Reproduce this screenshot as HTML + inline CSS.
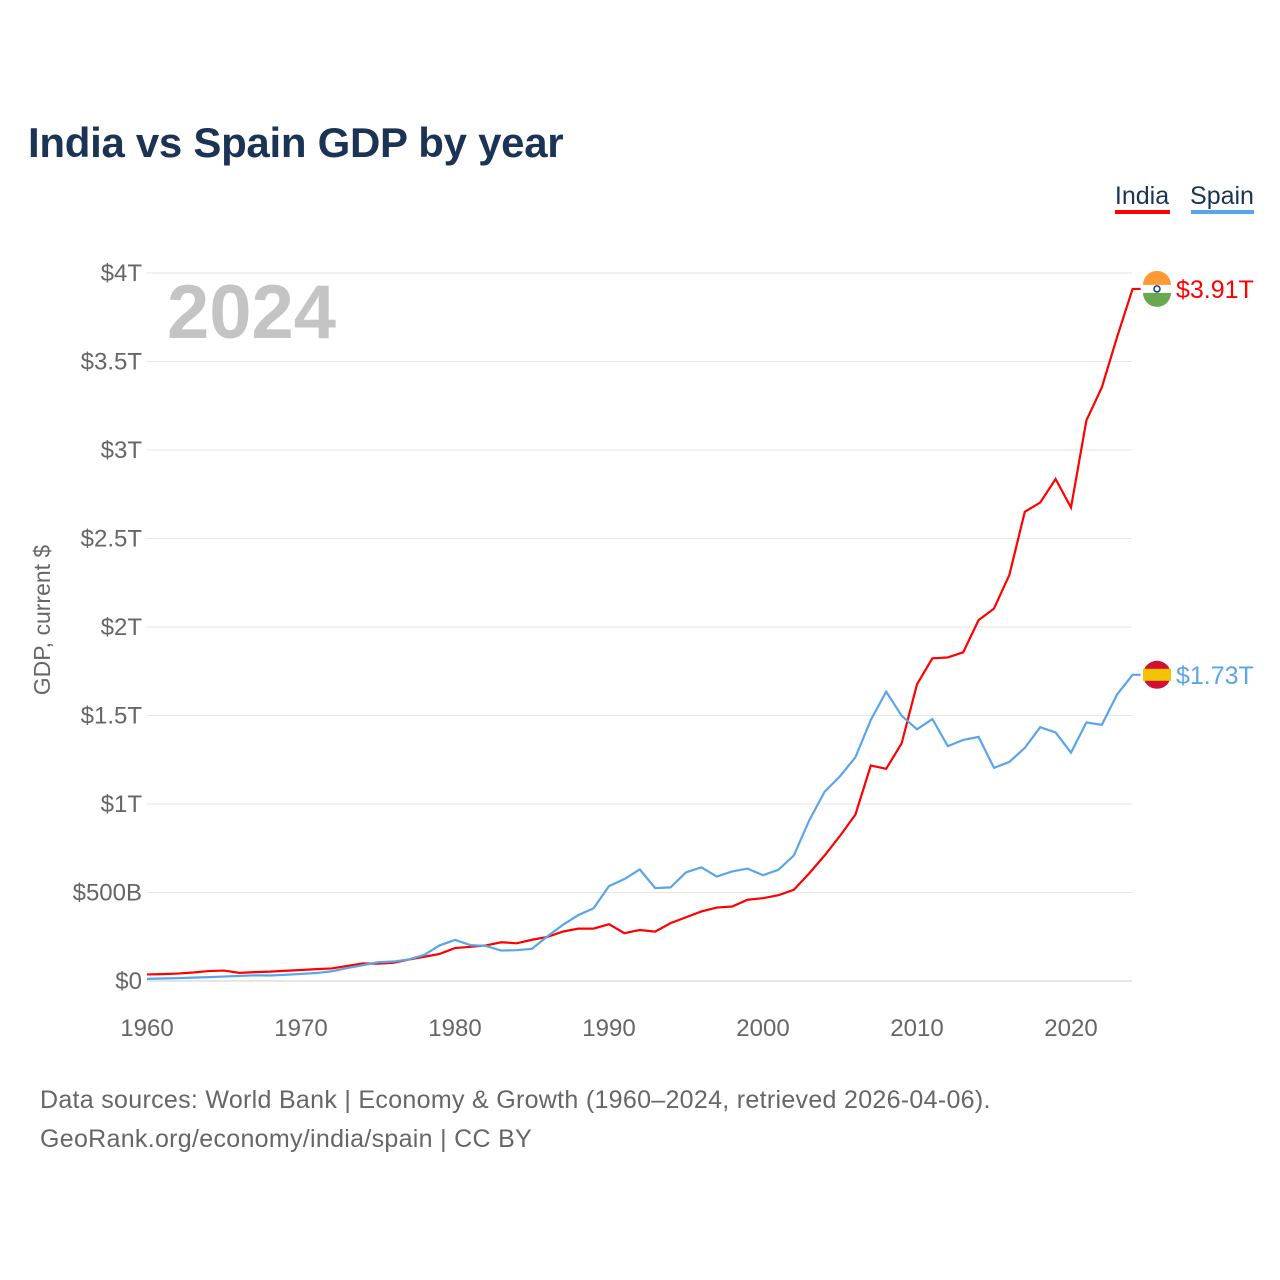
<!DOCTYPE html>
<html><head><meta charset="utf-8"><style>
body{margin:0;background:#fff;font-family:"Liberation Sans",sans-serif}
#wrap{position:relative;width:1280px;height:1280px;overflow:hidden}
</style></head><body>
<div id="wrap">
<svg id="chart" width="1280" height="1280">
<text x="28" y="157" font-size="42" font-weight="bold" fill="#1b3354" letter-spacing="-0.3">India vs Spain GDP by year</text>
<g>
<text x="1142" y="204" font-size="25" fill="#1b3354" text-anchor="middle">India</text>
<rect x="1115" y="210" width="55" height="4" fill="#ff0000"/>
<text x="1222" y="204" font-size="25" fill="#1b3354" text-anchor="middle">Spain</text>
<rect x="1191" y="210" width="63" height="4" fill="#5aa5ea"/>
</g>
<text x="167" y="338" font-size="76" font-weight="bold" fill="#c4c4c4">2024</text>
<text transform="translate(50,620) rotate(-90)" font-size="23" fill="#666" text-anchor="middle">GDP, current $</text>
<g id="grid"></g><g id="xt"></g><g id="lines"></g>
<text x="40" y="1108" font-size="25" fill="#666" letter-spacing="0.3">Data sources: World Bank | Economy &amp; Growth (1960–2024, retrieved 2026-04-06).</text>
<text x="40" y="1147" font-size="25" fill="#666" letter-spacing="0.3">GeoRank.org/economy/india/spain | CC BY</text>
</svg></div>
<script>
const years=[];for(let y=1960;y<=2024;y++)years.push(y);
const india=[.037,.039,.042,.048,.056,.059,.046,.050,.053,.058,.062,.067,.071,.085,.099,.098,.103,.121,.137,.153,.186,.193,.201,.219,.213,.233,.249,.279,.296,.296,.321,.270,.288,.279,.327,.360,.393,.415,.421,.459,.468,.485,.515,.608,.709,.820,.940,1.217,1.199,1.342,1.676,1.823,1.828,1.857,2.039,2.104,2.295,2.651,2.703,2.836,2.675,3.167,3.353,3.64,3.91];
const spain=[.012,.014,.016,.019,.022,.025,.029,.032,.031,.035,.040,.045,.055,.073,.089,.106,.110,.122,.147,.201,.232,.203,.198,.172,.174,.182,.252,.317,.372,.411,.536,.576,.630,.525,.529,.614,.642,.590,.619,.635,.598,.628,.709,.907,1.069,1.157,1.264,1.475,1.635,1.499,1.422,1.480,1.327,1.362,1.379,1.204,1.238,1.317,1.434,1.404,1.290,1.461,1.447,1.62,1.73];
const yTicks=[0,0.5,1,1.5,2,2.5,3,3.5,4];
const yLabels=["$0","$500B","$1T","$1.5T","$2T","$2.5T","$3T","$3.5T","$4T"];
const xTicks=[1960,1970,1980,1990,2000,2010,2020];
const NS="http://www.w3.org/2000/svg";
const X=v=>147+(v-1960)*15.4, Y=v=>981-v*177;
function mk(t,a,p){const e=document.createElementNS(NS,t);for(const k in a)e.setAttribute(k,a[k]);p.appendChild(e);return e;}
const g=document.getElementById('grid');
yTicks.forEach((v,i)=>{
 const l=mk('line',{x1:147,x2:1132,y1:Y(v),y2:Y(v),stroke:v===0?'#ccc':'#e6e6e6'},g);
 
 
 const t=mk('text',{x:142,y:Y(v)+8,'font-size':24,fill:'#666','text-anchor':'end'},g);t.textContent=yLabels[i];
 
 
});
const xt=document.getElementById('xt');
xTicks.forEach(v=>{const t=mk('text',{x:X(v),y:1036,'font-size':24,fill:'#666','text-anchor':'middle'},xt);t.textContent=v;
 
 });
const L=document.getElementById('lines');
function series(d,c,name,lbl,flagBase){
 let p=d.map((v,i)=>X(years[i])+','+Y(v)).join(' ');
 const last=d[d.length-1];
 p+=' '+(X(2024)+8)+','+Y(last);
 const pl=mk('polyline',{points:p,fill:'none',stroke:c,'stroke-width':2.2},L);
 
 
 const cir=mk('circle',{cx:1157,cy:Y(last),r:14,fill:flagBase},L);
 
 
 const t=mk('text',{x:1176,y:Y(last)+9,'font-size':25,fill:c},L);t.textContent=lbl;
 
 
 return Y(last);
}
const yi=series(india,'#ff0000','india','$3.91T','#ffffff');
const ys=series(spain,'#5aa5ea','spain','$1.73T','#d21034');
mk('path',{d:`M1143,${yi-4} A14,14 0 0 1 1171,${yi-4} z`,fill:'#ff9933'},L);
mk('path',{d:`M1143,${yi+4} L1171,${yi+4} A14,14 0 0 1 1143,${yi+4} z`,fill:'#6aa84f'},L);
mk('circle',{cx:1157,cy:yi,r:3,fill:'none',stroke:'#1a3c8c','stroke-width':1.5},L);
mk('rect',{x:1143,y:ys-6,width:28,height:12,fill:'#f5c400'},L);
</script>
</body></html>
